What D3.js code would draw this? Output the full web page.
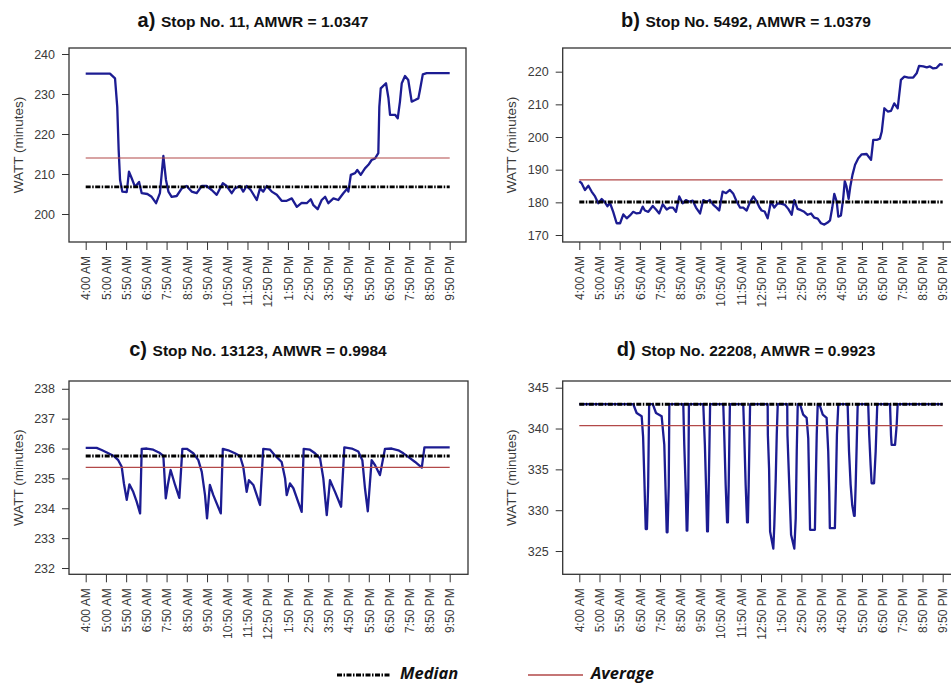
<!DOCTYPE html>
<html>
<head>
<meta charset="utf-8">
<script src="https://cdn.jsdelivr.net/npm/d3@7"></script>
<style>
body { margin: 0; background: #fff; }
</style>
</head>
<body>
<div id="chart"></div>
<script>
// time axis labels, evenly spaced ticks (slot 0 .. 18)
const timeLabels = ["4:00 AM", "5:00 AM", "5:50 AM", "6:50 AM", "7:50 AM", "8:50 AM", "9:50 AM",
    "10:50 AM", "11:50 AM", "12:50 PM", "1:50 PM", "2:50 PM", "3:50 PM", "4:50 PM", "5:50 PM",
    "6:50 PM", "7:50 PM", "8:50 PM", "9:50 PM"];

// series: [slot, WATT in minutes]
const stop11 = [[0,235.1],[1.2,235.1],[1.45,233.9],[1.56,226.8],[1.63,216],[1.7,208.5],[1.81,205.6],[2.03,205.5],
    [2.14,210.6],[2.27,209],[2.44,206.8],[2.64,208],[2.77,205.2],[3.05,205],[3.26,204.3],[3.48,202.7],[3.67,205.2],
    [3.84,214.5],[3.97,208.5],[4.09,205.6],[4.25,204.3],[4.5,204.5],[4.75,206.4],[4.99,207],[5.24,205.6],[5.49,205.2],
    [5.74,207],[5.98,207],[6.23,206],[6.48,204.8],[6.78,207.7],[6.97,207],[7.22,205.2],[7.38,206.4],[7.63,207],
    [7.79,205.6],[7.96,207],[8.16,206],[8.46,203.5],[8.62,206.4],[8.78,205.6],[8.95,207],[9.2,205.6],[9.45,204.8],
    [9.69,203.3],[9.94,203.3],[10.19,203.9],[10.44,201.8],[10.68,202.8],[10.93,202.7],[11.13,203.7],[11.26,202.2],
    [11.47,201.2],[11.67,203.5],[11.84,204.3],[12,202.7],[12.25,203.9],[12.49,203.5],[12.74,205.2],[12.94,206.4],
    [12.99,205.6],[13.11,209.8],[13.32,210.2],[13.43,211],[13.6,209.8],[13.81,211.4],[13.98,212.3],[14.14,213.5],
    [14.31,213.9],[14.47,215.2],[14.52,226.8],[14.59,231.4],[14.85,232.7],[14.97,229],[15.05,224.8],[15.3,224.8],
    [15.43,223.9],[15.54,228.1],[15.63,232.7],[15.79,234.5],[15.95,233.5],[16.12,228.1],[16.29,228.5],[16.45,228.9],
    [16.53,231],[16.67,234.9],[16.86,235.2],[18,235.2]];

const stop5492 = [[0,186.5],[0.12,185.8],[0.28,183.8],[0.45,185.1],[0.61,183.3],[0.78,181.8],[0.94,179.7],[1.11,181],
    [1.27,180],[1.39,178.8],[1.52,179.8],[1.68,177.1],[1.85,173.6],[2.02,173.6],[2.18,176.3],[2.35,175.1],[2.51,176],
    [2.67,177.1],[2.84,176.6],[3.01,176.8],[3.14,178.7],[3.25,177.5],[3.42,177.1],[3.64,178.9],[3.8,177.8],[3.96,176.6],
    [4.13,179.4],[4.33,177.8],[4.49,178.4],[4.64,178.4],[4.79,177.1],[4.95,181.8],[5.12,179.7],[5.28,180.7],[5.45,180.2],
    [5.62,180.5],[5.78,178.4],[5.98,176.6],[6.14,180.7],[6.31,180.2],[6.47,180.7],[6.64,179.2],[6.81,178.3],[6.93,177.5],
    [7.1,183.3],[7.27,182.8],[7.46,183.8],[7.63,182.6],[7.8,180.2],[7.96,178.4],[8.12,178.4],[8.29,177.5],[8.45,180],
    [8.62,181.8],[8.79,180.2],[8.92,178.5],[9.03,177.5],[9.18,177.2],[9.33,175.1],[9.49,180.2],[9.66,178.4],[9.83,179.7],
    [9.99,179.6],[10.19,179.2],[10.35,178],[10.52,176.2],[10.65,180.7],[10.81,178],[10.98,177.6],[11.14,177.1],
    [11.31,176.2],[11.48,176.6],[11.64,175.3],[11.81,175],[11.97,173.6],[12.14,173.2],[12.3,173.8],[12.42,174.5],
    [12.53,178.4],[12.63,182.6],[12.75,180.2],[12.83,175.6],[12.96,176],[13.07,181.1],[13.15,186.5],[13.23,185],
    [13.34,181.1],[13.42,184.7],[13.53,188.4],[13.66,191.5],[13.82,193.5],[13.99,194.7],[14.23,194.8],[14.45,193],
    [14.56,199.1],[14.73,199.1],[14.89,199.5],[14.98,201.6],[15.11,208.8],[15.28,207.8],[15.44,208],[15.6,210.3],
    [15.77,208.8],[15.93,217.5],[16.1,218.5],[16.3,218.2],[16.54,218.2],[16.71,219.5],[16.83,221.8],[17.04,221.6],
    [17.21,221.3],[17.37,221.6],[17.53,221],[17.7,221.2],[17.87,222.3],[18,222.1]];

const stop13123 = [[0,236.02],[0.54,236.02],[0.79,235.95],[1.12,235.84],[1.37,235.76],[1.61,235.61],[1.78,235.39],
    [1.89,234.83],[2.03,234.28],[2.16,234.8],[2.35,234.55],[2.52,234.22],[2.69,233.83],[2.77,235.99],[3.02,236],
    [3.34,235.96],[3.67,235.85],[3.84,235.75],[3.96,234.33],[4.06,234.78],[4.2,235.28],[4.42,234.78],[4.63,234.35],
    [4.78,235.99],[5,235.99],[5.32,235.84],[5.57,235.61],[5.74,235.22],[5.9,234.44],[6,233.66],[6.14,234.78],
    [6.31,234.44],[6.68,233.83],[6.78,235.99],[7.05,235.94],[7.38,235.84],[7.63,235.75],[7.79,235.39],[7.96,234.55],
    [8.07,234.94],[8.29,234.78],[8.62,234.11],[8.78,235.99],[9.12,235.96],[9.36,235.77],[9.69,235.55],[9.86,235],
    [9.94,234.44],[10.1,234.83],[10.27,234.67],[10.68,233.88],[10.78,235.99],[11.09,235.96],[11.34,235.84],
    [11.59,235.67],[11.75,235],[11.92,233.77],[12.08,234.94],[12.33,234.55],[12.63,234.05],[12.79,236.04],[13.16,236],
    [13.48,235.9],[13.68,235.61],[13.81,234.67],[13.95,233.9],[14.14,235.61],[14.31,235.44],[14.55,235.11],
    [14.8,235.99],[15.13,236],[15.46,235.94],[15.71,235.84],[15.95,235.72],[16.29,235.55],[16.62,235.36],
    [16.75,236.04],[18,236.04]];

const stop22208 = [[0,343],[2.67,343],[2.84,341.9],[3.09,341.5],[3.16,339],[3.22,334],[3.29,327.7],[3.35,327.7],[3.41,333],[3.46,343],
    [3.64,343],[3.8,341.9],[4.08,341.5],[4.21,338],[4.28,331.9],[4.33,327.3],[4.37,327.3],[4.43,333],[4.46,343],
    [5.15,343],[5.2,338],[5.27,332.7],[5.32,327.5],[5.35,327.5],[5.4,332.7],[5.43,343],
    [6.14,343],[6.22,338],[6.28,332.7],[6.33,327.4],[6.37,327.4],[6.41,332.7],[6.48,343],
    [7.13,343],[7.18,339.2],[7.25,333.1],[7.32,328.5],[7.36,328.5],[7.4,333.1],[7.46,343],
    [8.12,343],[8.17,339.2],[8.24,333.1],[8.31,328.5],[8.35,328.5],[8.39,333.1],[8.46,343],
    [9.33,343],[9.34,339.2],[9.4,335.1],[9.45,327.4],[9.61,325.3],[9.66,328.2],[9.73,333.9],[9.78,339.2],[9.83,343],
    [10.3,343],[10.31,339.2],[10.4,333.1],[10.49,327],[10.65,325.3],[10.72,329],[10.77,337.2],[10.82,343],
    [10.93,343],[11.09,341.7],[11.26,341.3],[11.34,338.8],[11.39,332.7],[11.43,327.6],[11.67,327.6],[11.71,333.1],[11.76,339.2],[11.81,343],
    [11.89,343],[12.06,341.7],[12.25,341.3],[12.33,337.2],[12.38,332.3],[12.41,327.8],[12.66,327.8],[12.71,333.1],[12.76,339.2],[12.83,343],
    [13.29,343],[13.36,337.2],[13.44,333.1],[13.52,330.6],[13.61,329.3],[13.64,329.3],[13.69,333.1],[13.74,338],[13.79,343],
    [14.31,343],[14.36,339.2],[14.43,335.5],[14.48,333.3],[14.6,333.3],[14.68,337.2],[14.76,343],
    [15.39,343],[15.44,339.2],[15.47,338],[15.64,338],[15.72,340.4],[15.77,343],
    [18,343]];

const panelTags = ["a)", "b)", "c)", "d)"];
const panelTitles = ["Stop No. 11, AMWR = 1.0347", "Stop No. 5492, AMWR = 1.0379",
    "Stop No. 13123, AMWR = 0.9984", "Stop No. 22208, AMWR = 0.9923"];
const medians = [206.8, 180.1, 235.75, 342.97];
const averages = [214.0, 186.85, 235.37, 340.35];
const yTicksA = [200, 210, 220, 230, 240];
const yTicksB = [170, 180, 190, 200, 210, 220];
const yTicksC = [232, 233, 234, 235, 236, 237, 238];
const yTicksD = [325, 330, 335, 340, 345];

const W = 951, H = 684;
const lineColor = "#1c1c92";
const avgColor = "#b24848";
const textColor = "#3a3a3a";

const svg = d3.select("#chart").append("svg")
    .attr("width", W).attr("height", H)
    .style("font-family", "'Liberation Sans', Arial, sans-serif");

svg.append("rect").attr("width", W).attr("height", H).attr("fill", "#fff");

// panel layout (box edges in px, tick span, y domain)
const panels = [
    {data: stop11, yTicks: yTicksA, box: [69, 48, 466, 242], xr: [85.7, 449.7], yDom: [193, 241.5], titleX: 253, titleY: 27},
    {data: stop5492, yTicks: yTicksB, box: [562.7, 48, 959, 242], xr: [579.3, 942.7], yDom: [167.86, 227.25], titleX: 746, titleY: 27},
    {data: stop13123, yTicks: yTicksC, box: [69, 381, 468, 574.3], xr: [85.7, 449.7], yDom: [231.79, 238.26], titleX: 258, titleY: 356},
    {data: stop22208, yTicks: yTicksD, box: [562.7, 381, 959, 574.3], xr: [579.3, 942.7], yDom: [322.15, 345.82], titleX: 746, titleY: 356}
];

panels.forEach((p, k) => {
    const [left, top, right, bottom] = p.box;
    const x = d3.scaleLinear().domain([0, timeLabels.length - 1]).range(p.xr);
    const y = d3.scaleLinear().domain(p.yDom).range([bottom, top]);
    const g = svg.append("g");

    // title
    const t = g.append("text")
        .attr("x", p.titleX).attr("y", p.titleY)
        .attr("text-anchor", "middle")
        .attr("font-weight", "bold")
        .attr("fill", "#111");
    t.append("tspan").attr("font-size", 20).text(panelTags[k] + " ");
    t.append("tspan")
        .attr("font-family", "'Liberation Sans Narrow', 'Arial Narrow', sans-serif")
        .attr("font-size", 15.5)
        .text(panelTitles[k]);

    // series
    const line = d3.line().x(d => x(d[0])).y(d => y(d[1]));
    g.append("path")
        .datum(p.data)
        .attr("d", line)
        .attr("fill", "none")
        .attr("stroke", lineColor)
        .attr("stroke-width", 2.3)
        .attr("stroke-linejoin", "round");

    // median and average
    g.append("line")
        .attr("x1", x(0)).attr("x2", x(timeLabels.length - 1))
        .attr("y1", y(medians[k])).attr("y2", y(medians[k]))
        .attr("stroke", "#000").attr("stroke-width", 2.8)
        .attr("stroke-dasharray", "5,1.5,1.5,1.5");
    g.append("line")
        .attr("x1", x(0)).attr("x2", x(timeLabels.length - 1))
        .attr("y1", y(averages[k])).attr("y2", y(averages[k]))
        .attr("stroke", avgColor).attr("stroke-width", 1.2);

    // box
    g.append("rect")
        .attr("x", left).attr("y", top)
        .attr("width", right - left).attr("height", bottom - top)
        .attr("fill", "none").attr("stroke", "#333").attr("stroke-width", 1.3);

    // y axis
    const ya = g.append("g")
        .attr("transform", `translate(${left},0)`)
        .call(d3.axisLeft(y).tickValues(p.yTicks).tickFormat(d3.format("d"))
            .tickSize(7).tickPadding(7).tickSizeOuter(0));
    ya.select(".domain").remove();
    ya.selectAll("line").attr("stroke", "#333");
    ya.selectAll("text").attr("font-size", 12.5).attr("fill", textColor)
        .attr("font-family", "'Liberation Sans', Arial, sans-serif");

    // x axis
    const xa = g.append("g")
        .attr("transform", `translate(0,${bottom})`)
        .call(d3.axisBottom(x).tickValues(d3.range(timeLabels.length))
            .tickFormat(i => timeLabels[i]).tickSize(8).tickSizeOuter(0));
    xa.select(".domain").remove();
    xa.selectAll("line").attr("stroke", "#333");
    xa.selectAll("text")
        .attr("transform", "rotate(-90)")
        .attr("text-anchor", "end")
        .attr("x", -14).attr("y", 0).attr("dy", "0.35em")
        .attr("font-size", 12).attr("fill", textColor)
        .attr("font-family", "'Liberation Sans', Arial, sans-serif");

    // y title
    g.append("text")
        .attr("transform", `translate(${left - 51},${(top + bottom) / 2}) rotate(-90)`)
        .attr("text-anchor", "middle")
        .attr("dy", "0.35em")
        .attr("font-size", 13.5)
        .attr("fill", textColor)
        .text("WATT (minutes)");
});

// legend
const leg = svg.append("g").style("font-family", "'Open Sans', sans-serif");
leg.append("line").attr("x1", 337).attr("x2", 390).attr("y1", 675).attr("y2", 675)
    .attr("stroke", "#000").attr("stroke-width", 2.8).attr("stroke-dasharray", "5,1.5,1.5,1.5");
leg.append("text").attr("x", 400).attr("y", 679)
    .attr("font-size", 16.5).attr("font-weight", "bold").attr("font-style", "italic").attr("fill", "#111")
    .text("Median");
leg.append("line").attr("x1", 528).attr("x2", 583).attr("y1", 675).attr("y2", 675)
    .attr("stroke", avgColor).attr("stroke-width", 1.3);
leg.append("text").attr("x", 591).attr("y", 679)
    .attr("font-size", 16.5).attr("font-weight", "bold").attr("font-style", "italic").attr("fill", "#111")
    .text("Average");
</script>
</body>
</html>
